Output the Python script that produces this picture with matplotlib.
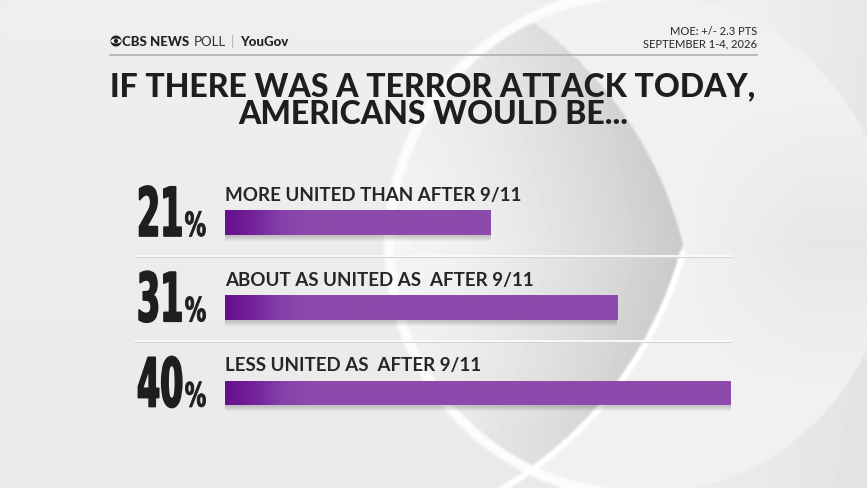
import numpy as np
import matplotlib.pyplot as plt
from matplotlib.colors import LinearSegmentedColormap
from matplotlib.patheffects import AbstractPathEffect
from matplotlib.transforms import Affine2D, blended_transform_factory
from matplotlib.patches import Circle, Ellipse

categories = ["MORE UNITED THAN AFTER 9/11", "ABOUT AS UNITED AS  AFTER 9/11", "LESS UNITED AS  AFTER 9/11"]
values = [21, 31, 40]
pct_labels = ["21", "31", "40"]
title_lines = ["IF THERE WAS A TERROR ATTACK TODAY,", "AMERICANS WOULD BE..."]
moe_text = "MOE: +/- 2.3 PTS\nSEPTEMBER 1-4, 2026"


class Tall(AbstractPathEffect):
    # stretch glyphs upward from the baseline (and thicken) to mimic a condensed font
    def __init__(self, sy, lw=0.0):
        super().__init__()
        self.sy = sy
        self.lw = lw

    def draw_path(self, renderer, gc, tpath, affine, rgbFace=None):
        aff = Affine2D().scale(1, self.sy) + affine
        gc0 = renderer.new_gc()
        gc0.copy_properties(gc)
        if self.lw and rgbFace is not None:
            gc0.set_linewidth(self.lw)
            gc0.set_foreground(rgbFace)
        renderer.draw_path(gc0, tpath, aff, rgbFace)
        gc0.restore()


W, H = 867, 488
fig = plt.figure(figsize=(W / 100, H / 100), dpi=100)

# ---- background (CBS eye swoosh) ----
X, Y = np.meshgrid(np.arange(W) + 0.5, np.arange(H) + 0.5)
img = 0.915 + 0.02 * (1 - Y / H) - 0.03 * np.clip((X - 760) / 110, 0, 1)
dC = np.hypot(X - 640, Y - 244)
inC = dC < 250
up = np.hypot(X - 300, Y - 340.6) < 395
lo = np.hypot(X - 300, Y - 147.4) < 395
lens = up & lo
img[inC] = 0.935
sh = np.clip((X - 390) / 293, 0, 1)
m = inC & lens
img[m] = (0.96 - 0.17 * sh ** 1.6 - 0.04 * np.abs(Y - 244) / 244)[m]
img[inC & ~lens] = 0.945
m2 = inC & ~lens & (X > 640)
img[m2] -= (0.04 * np.clip(1 - np.abs(Y - 244) / 150, 0, 1) * np.clip((X - 683) / 120, 0, 1))[m2]
# highlights
img[(np.abs(dC - 251) < 5) & (X < 640)] = 0.985
loarc = np.abs(np.hypot(X - 300, Y - 147.4) - 397) < 3
img[loarc & (Y > 250) & (X > 460)] = 1.0
for _ in range(3):
    img = (img + np.roll(img, 1, 0) + np.roll(img, -1, 0) + np.roll(img, 1, 1) + np.roll(img, -1, 1)) / 5

bg = fig.add_axes([0, 0, 1, 1])
bg.set_xlim(0, W)
bg.set_ylim(H, 0)
bg.axis("off")
bg.imshow(img, extent=[0, W, H, 0], cmap="gray", vmin=0, vmax=1, aspect="auto", zorder=0)

# ---- header ----
bg.plot([110, 757], [55, 55], color="#b0b0b0", lw=1.2, zorder=3)
bg.add_patch(Circle((116, 41), 5.5, facecolor="#222222", edgecolor="none", zorder=4))
bg.add_patch(Ellipse((116, 41), 10, 5, facecolor="white", edgecolor="none", zorder=5))
bg.add_patch(Circle((116, 41), 2.2, facecolor="#222222", edgecolor="none", zorder=6))
h1 = bg.text(122, 46, "CBS NEWS", fontsize=9.5, fontweight="black", family="Lato", color="#222222",
             va="baseline", zorder=5)
h2 = bg.annotate("POLL", xy=(1, 0), xycoords=h1, xytext=(3, 0), textcoords="offset points",
                 fontsize=9.5, fontweight="normal", family="Lato", color="#333333",
                 va="bottom", zorder=5)
h3 = bg.annotate("|", xy=(1, 0), xycoords=h2, xytext=(4, 0), textcoords="offset points",
                 fontsize=9.5, family="Lato", color="#aaaaaa", va="bottom", zorder=5)
bg.annotate("YouGov", xy=(1, 0), xycoords=h3, xytext=(4, 0), textcoords="offset points",
            fontsize=9.5, fontweight="black", family="Lato", color="#222222", va="bottom", zorder=5)
bg.text(757, 49, moe_text, fontsize=8, family="Lato", fontweight="medium", color="#333333",
        ha="right", va="bottom", linespacing=1.1, zorder=5)

# ---- title ----
for i, line in enumerate(title_lines):
    bg.text(433, 96 + 28 * i, line, fontsize=23, fontweight="black", family="Lato",
            color="#1e1e1e", ha="center", va="baseline", zorder=5)

# separators
for yy in [256, 341]:
    bg.plot([135, 731], [yy + 1, yy + 1], color="#d6d6d6", lw=0.8, zorder=3)
    bg.plot([135, 731], [yy, yy], color="#fafafa", lw=1.3, zorder=3)

# ---- bars ----
ax = fig.add_axes([225 / W, (H - 430) / H, 506 / W, 270 / H])
ax.patch.set_alpha(0)
ax.set_xlim(0, 40)
ax.set_ylim(2.434, -0.733)
ax.axis("off")
ypos = np.arange(len(values))
for k in range(5):
    ax.barh(ypos + 0.02 + 0.012 * k, values, height=0.29, color="black", alpha=0.035, zorder=1)
bars = ax.barh(ypos, values, height=0.29, color="#8e4aad", zorder=2)
cmap = LinearSegmentedColormap.from_list("p", ["#66108b", "#74209a", "#8440a8", "#8d4aad"])
for b in bars:
    x0, y0 = b.get_x(), b.get_y()
    w, h = b.get_width(), b.get_height()
    gi = ax.imshow(np.clip(np.linspace(0, 1, 400) * w / 6.5, 0, 1)[None, :],
                   extent=[x0, x0 + w, y0 + h, y0], cmap=cmap, vmin=0, vmax=1,
                   aspect="auto", zorder=3)
    gi.set_clip_path(b)

tr = blended_transform_factory(ax.transAxes, ax.transData)
for i, (cat, lab) in enumerate(zip(categories, pct_labels)):
    ax.text(0.002, i - 0.255, cat, fontsize=13.5, fontweight="bold", family="Lato",
            color="#262626", va="baseline", ha="left")
    t1 = ax.text(-0.174, i + 0.158, lab, fontsize=24, fontweight="bold", family="DejaVu Sans",
                 color="#1e1e1e", va="baseline", ha="left", transform=tr, clip_on=False,
                 path_effects=[Tall(2.02, 1.3)])
    ax.annotate("%", xy=(1, i + 0.158), xycoords=(t1, "data"), xytext=(1, 0),
                textcoords="offset points", fontsize=15.5, fontweight="bold",
                family="DejaVu Sans", color="#1e1e1e", va="baseline", ha="left",
                annotation_clip=False, path_effects=[Tall(1.55, 0.6)])

fig.savefig("out.png", dpi=100)
